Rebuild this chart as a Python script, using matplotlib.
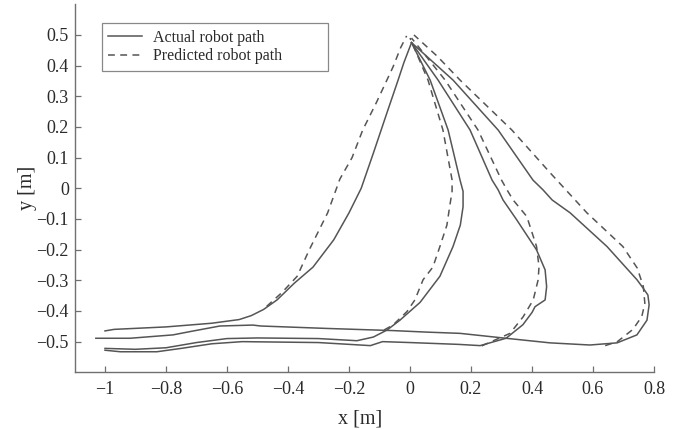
import matplotlib
matplotlib.use("Agg")
import matplotlib.pyplot as plt

plt.rcParams['font.family'] = ['Liberation Serif', 'DejaVu Serif']

# ---- data ----
A_actual_x = [-1.0, -0.97, -0.8, -0.65, -0.56, -0.52, -0.48, -0.436, -0.38, -0.318, -0.25, -0.2, -0.16, -0.12, -0.076, -0.04, -0.02, 0.005]
A_actual_y = [-0.465, -0.46, -0.452, -0.44, -0.428, -0.415, -0.395, -0.364, -0.31, -0.257, -0.168, -0.08, 0.0, 0.115, 0.245, 0.35, 0.41, 0.475]
A_pred_x = [-0.47, -0.42, -0.37, -0.33, -0.27, -0.23, -0.19, -0.155, -0.11, -0.056, -0.03, -0.011]
A_pred_y = [-0.385, -0.34, -0.287, -0.2, -0.08, 0.03, 0.10, 0.19, 0.28, 0.395, 0.46, 0.497]

B_actual_x = [-1.0, -0.9, -0.8, -0.7, -0.6, -0.5, -0.3, -0.174, -0.12, -0.075, -0.033, 0.033, 0.098, 0.141, 0.165, 0.174, 0.174, 0.164, 0.125, 0.066, 0.005]
B_actual_y = [-0.522, -0.525, -0.52, -0.503, -0.49, -0.488, -0.49, -0.497, -0.485, -0.462, -0.43, -0.372, -0.287, -0.19, -0.12, -0.06, -0.01, 0.027, 0.19, 0.353, 0.475]
B_pred_x = [-0.085, -0.056, -0.01, 0.016, 0.043, 0.075, 0.098, 0.121, 0.13, 0.138, 0.138, 0.108, 0.059, 0.0]
B_pred_y = [-0.462, -0.446, -0.402, -0.364, -0.298, -0.257, -0.19, -0.12, -0.06, -0.01, 0.027, 0.19, 0.353, 0.49]

D_actual_x = [-1.0, -0.95, -0.83, -0.75, -0.65, -0.55, -0.3, -0.13, -0.09, 0.0, 0.16, 0.23, 0.315, 0.37, 0.40, 0.41, 0.443, 0.448, 0.443, 0.415, 0.35, 0.305, 0.289, 0.269, 0.197, 0.092, 0.005]
D_actual_y = [-0.528, -0.533, -0.533, -0.522, -0.507, -0.5, -0.503, -0.513, -0.5, -0.503, -0.509, -0.513, -0.489, -0.445, -0.405, -0.386, -0.364, -0.321, -0.266, -0.201, -0.103, -0.038, -0.005, 0.027, 0.19, 0.353, 0.475]
D_pred_x = [0.235, 0.328, 0.371, 0.404, 0.42, 0.423, 0.415, 0.383, 0.338, 0.318, 0.30, 0.223, 0.115, 0.005]
D_pred_y = [-0.514, -0.473, -0.419, -0.364, -0.299, -0.256, -0.19, -0.092, -0.038, -0.005, 0.027, 0.19, 0.353, 0.49]

C_actual_x = [-1.03, -0.918, -0.777, -0.72, -0.623, -0.515, -0.49, -0.272, -0.056, 0.056, 0.164, 0.305, 0.459, 0.59, 0.679, 0.744, 0.777, 0.784, 0.78, 0.764, 0.744, 0.646, 0.525, 0.466, 0.436, 0.403, 0.289, 0.141, 0.005]
C_actual_y = [-0.489, -0.489, -0.478, -0.467, -0.449, -0.446, -0.449, -0.457, -0.464, -0.469, -0.473, -0.488, -0.504, -0.511, -0.504, -0.478, -0.43, -0.38, -0.348, -0.325, -0.298, -0.19, -0.08, -0.038, -0.005, 0.027, 0.19, 0.353, 0.475]
C_pred_x = [0.64, 0.68, 0.731, 0.76, 0.77, 0.765, 0.745, 0.698, 0.58, 0.46, 0.334, 0.164, 0.09, 0.013]
C_pred_y = [-0.513, -0.50, -0.46, -0.418, -0.375, -0.32, -0.26, -0.19, -0.08, 0.05, 0.19, 0.353, 0.43, 0.50]

actual_paths = [(A_actual_x, A_actual_y), (B_actual_x, B_actual_y), (D_actual_x, D_actual_y), (C_actual_x, C_actual_y)]
pred_paths = [(A_pred_x, A_pred_y), (B_pred_x, B_pred_y), (D_pred_x, D_pred_y), (C_pred_x, C_pred_y)]

x_ticks = [-1, -0.8, -0.6, -0.4, -0.2, 0, 0.2, 0.4, 0.6, 0.8]
x_tick_labels = ['\u22121', '\u22120.8', '\u22120.6', '\u22120.4', '\u22120.2', '0', '0.2', '0.4', '0.6', '0.8']
y_ticks = [-0.5, -0.4, -0.3, -0.2, -0.1, 0, 0.1, 0.2, 0.3, 0.4, 0.5]
y_tick_labels = ['\u22120.5', '\u22120.4', '\u22120.3', '\u22120.2', '\u22120.1', '0', '0.1', '0.2', '0.3', '0.4', '0.5']

legend_labels = ['Actual robot path', 'Predicted robot path']

# ---- styling ----
line_col = '#555555'
text_col = '#2a2a2a'
axis_col = '#707070'

fig = plt.figure(figsize=(6.84, 4.30), dpi=100)
ax = fig.add_axes([74.5 / 684, (430 - 372.3) / 430, 579.5 / 684, 368 / 430])

for i, (xs, ys) in enumerate(actual_paths):
    ax.plot(xs, ys, color=line_col, lw=1.1, solid_joinstyle='round',
            label=legend_labels[0] if i == 0 else None)
for i, (xs, ys) in enumerate(pred_paths):
    ax.plot(xs, ys, color=line_col, lw=1.1, linestyle=(0, (4.5, 3.5)),
            label=legend_labels[1] if i == 0 else None)

ax.set_xlim(-1.1, 0.8)
ax.set_ylim(-0.6, 0.6)
ax.set_xticks(x_ticks)
ax.set_xticklabels(x_tick_labels)
ax.set_yticks(y_ticks)
ax.set_yticklabels(y_tick_labels)

for s in ['top', 'right']:
    ax.spines[s].set_visible(False)
for s in ['left', 'bottom']:
    ax.spines[s].set_color(axis_col)
    ax.spines[s].set_linewidth(1.0)

ax.tick_params(direction='in', length=4, width=0.9, color=axis_col,
               labelsize=13, labelcolor=text_col)
ax.tick_params(axis='x', pad=6)
ax.tick_params(axis='y', pad=4)

ax.set_xlabel('x [m]', fontsize=14.5, color=text_col)
ax.set_ylabel('y [m]', fontsize=14.5, color=text_col)
ax.xaxis.set_label_coords(0.4927, -0.1)
ax.yaxis.set_label_coords(-0.064, 0.5)

leg = ax.legend(loc='upper left', bbox_to_anchor=(0.047, 0.0, 0.39, 0.948),
                mode='expand', borderaxespad=0, fontsize=11.5,
                frameon=True, fancybox=False, framealpha=1,
                edgecolor='#888888', handlelength=2.1, handletextpad=0.7,
                borderpad=0.4, labelspacing=0.15)
leg.get_frame().set_linewidth(0.9)
for t in leg.get_texts():
    t.set_color(text_col)

fig.savefig('out.png', dpi=100)
